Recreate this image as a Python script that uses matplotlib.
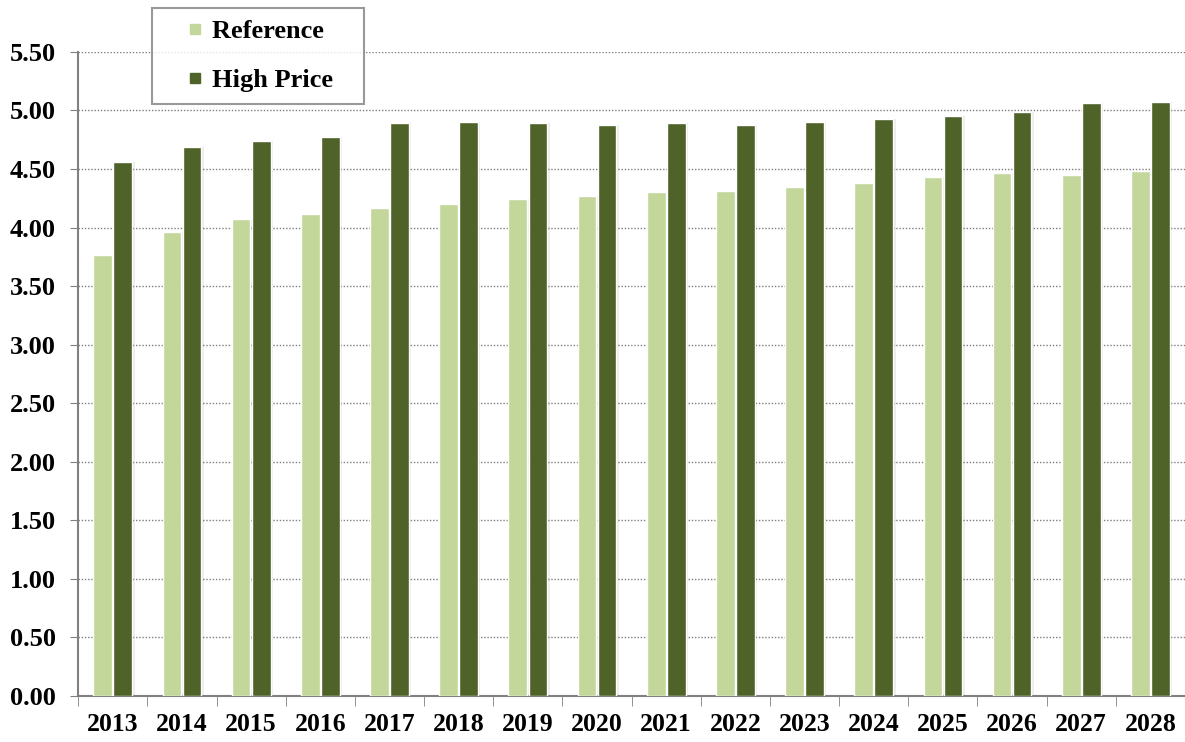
import numpy as np
import matplotlib
matplotlib.use("Agg")
import matplotlib.pyplot as plt
from matplotlib.ticker import FixedLocator
from matplotlib.lines import Line2D

years = ["2013", "2014", "2015", "2016", "2017", "2018", "2019", "2020",
         "2021", "2022", "2023", "2024", "2025", "2026", "2027", "2028"]
reference = [3.77, 3.96, 4.07, 4.12, 4.17, 4.20, 4.24, 4.27,
             4.30, 4.31, 4.35, 4.38, 4.43, 4.47, 4.45, 4.48]
high_price = [4.56, 4.69, 4.74, 4.77, 4.89, 4.90, 4.89, 4.88,
              4.89, 4.88, 4.90, 4.93, 4.95, 4.99, 5.06, 5.07]

plt.rcParams["font.family"] = ["Liberation Serif", "DejaVu Serif"]
plt.rcParams["font.weight"] = "bold"

fig = plt.figure(figsize=(11.85, 7.42), dpi=100)
ax = fig.add_axes([0.066, 0.062, 0.934, 0.868])

x = np.arange(len(years))
w = 0.27
ref_col = "#c4d79b"
hp_col = "#4f6228"

# faint shadows behind bars
ax.bar(x - w / 2 + 0.025, reference, w, color="black", alpha=0.07, zorder=2, linewidth=0)
ax.bar(x + w / 2 + 0.045, high_price, w, color="black", alpha=0.07, zorder=2, linewidth=0)

ax.bar(x - w / 2 - 0.01, reference, w, color=ref_col, edgecolor="white",
       linewidth=1, zorder=3)
ax.bar(x + w / 2 + 0.01, high_price, w, color=hp_col, edgecolor="white",
       linewidth=1, zorder=3)

ax.set_xlim(-0.5, len(years) - 0.5)
ax.set_ylim(0, 5.5)
ax.set_yticks(np.arange(0, 5.51, 0.5))
ax.set_yticklabels([f"{v:.2f}" for v in np.arange(0, 5.51, 0.5)])
ax.set_xticks(x)
ax.set_xticklabels(years)
ax.xaxis.set_minor_locator(FixedLocator(np.arange(-0.5, len(years), 1.0)))
ax.tick_params(axis="x", which="major", length=0, pad=12, labelsize=18.5)
ax.tick_params(axis="x", which="minor", length=7, color="#808080", direction="out")
ax.tick_params(axis="y", length=6, color="#808080", labelsize=19, pad=10)

ax.grid(axis="y", linestyle=(0, (1, 1.3)), color="#7f7f7f", linewidth=1, zorder=0)
ax.set_axisbelow(True)
for side in ("top", "right"):
    ax.spines[side].set_visible(False)
for side in ("left", "bottom"):
    ax.spines[side].set_color("#808080")
    ax.spines[side].set_linewidth(1.5)

handles = [Line2D([], [], ls="none", marker="s", markersize=7.5, color=ref_col),
           Line2D([], [], ls="none", marker="s", markersize=7.5, color=hp_col)]
leg = ax.legend(handles, ["Reference   ", "High Price   "], loc="upper left",
                bbox_to_anchor=(0.067, 1.068), frameon=True, fancybox=False,
                edgecolor="#808080", fontsize=19, handlelength=2.3,
                handletextpad=-0.5, labelspacing=0.95, borderpad=0.45,
                borderaxespad=0)
leg.get_frame().set_linewidth(1.5)

fig.savefig("out.png", dpi=100)
